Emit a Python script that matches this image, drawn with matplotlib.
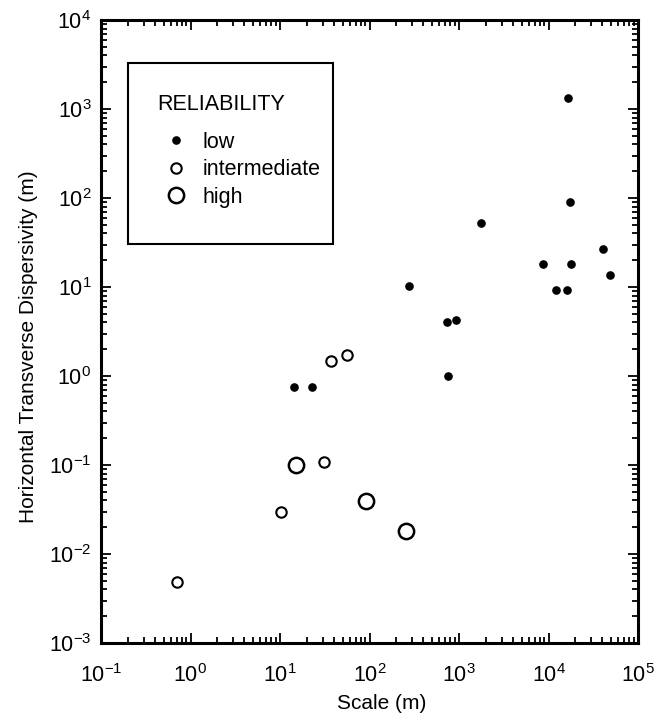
import numpy as np
import matplotlib
matplotlib.use("Agg")
import matplotlib.pyplot as plt
from matplotlib.patches import Rectangle
from matplotlib.ticker import NullFormatter

plt.rcParams['font.family'] = ['Liberation Sans', 'DejaVu Sans']
plt.rcParams['mathtext.fontset'] = 'custom'
plt.rcParams['mathtext.rm'] = 'Liberation Sans'
plt.rcParams['mathtext.default'] = 'regular'

# scale (m) and horizontal transverse dispersivity (m), by reliability
low_x = [14.5, 22.5, 745, 727, 915, 273, 1770, 16700, 17500, 8620, 18000, 12200, 16000, 40900, 48200]
low_y = [0.75, 0.75, 1.0, 4.0, 4.3, 10.3, 53, 1340, 90, 18.3, 18.3, 9.2, 9.2, 27, 13.7]

mid_x = [0.71, 10.3, 31, 37.6, 55.8]
mid_y = [0.0048, 0.030, 0.108, 1.47, 1.72]

high_x = [14.9, 92, 254]
high_y = [0.10, 0.039, 0.018]

labels = ["low", "intermediate", "high"]

x_exp = np.arange(-1, 6)   # 10^-1 .. 10^5
y_exp = np.arange(-3, 5)   # 10^-3 .. 10^4


def minor_ticks(exps):
    # 2..9 x 10^n inside each decade
    return [m * 10.0**e for e in exps[:-1] for m in range(2, 10)]


def main():
    fig = plt.figure(figsize=(6.63, 7.26), dpi=100)
    ax = fig.add_axes([101/663, 1-643/726, 537/663, 623/726])

    h1, = ax.plot(low_x, low_y, "o", color="black", ms=5.2, label=labels[0])
    h2, = ax.plot(mid_x, mid_y, "o", mfc="white", mec="black", mew=1.5, ms=7.5, label=labels[1])
    h3, = ax.plot(high_x, high_y, "o", mfc="white", mec="black", mew=1.8, ms=11, label=labels[2])

    ax.set_xscale("log")
    ax.set_yscale("log")

    # ticks only inside the range, on all sides, pointing in
    ax.set_xticks(10.0**x_exp)
    ax.set_yticks(10.0**y_exp)
    ax.set_xticks(minor_ticks(x_exp), minor=True)
    ax.set_yticks(minor_ticks(y_exp), minor=True)
    ax.xaxis.set_minor_formatter(NullFormatter())
    ax.yaxis.set_minor_formatter(NullFormatter())
    ax.set_xlim(10.0**x_exp[0], 10.0**x_exp[-1])
    ax.set_ylim(10.0**y_exp[0], 10.0**y_exp[-1])

    ax.tick_params(which="both", direction="in", top=True, right=True, width=1.3)
    ax.tick_params(which="major", length=7)
    ax.tick_params(which="minor", length=4)
    ax.tick_params(axis="x", which="major", labelsize=15.5, pad=15)
    ax.tick_params(axis="y", which="major", labelsize=15.5, pad=7)
    for s in ax.spines.values():
        s.set_linewidth(2.2)

    ax.set_xlabel("Scale (m)", fontsize=15)
    ax.set_ylabel("Horizontal Transverse Dispersivity (m)", fontsize=15)
    ax.xaxis.set_label_coords(0.523, -0.082)
    ax.yaxis.set_label_coords(-0.118, 0.475)

    # legend box
    fig.patches.append(Rectangle((128/663, 1-244/726), 205/663, 181/726,
                                 transform=fig.transFigure, fill=False,
                                 edgecolor="black", linewidth=1.5))
    fig.text(157/663, 1-104/726, "RELIABILITY", fontsize=15.5, va="center", ha="left")
    ax.legend(handles=[h1, h2, h3], loc="upper left", frameon=False,
              bbox_to_anchor=(166/663, 1-132/726), bbox_transform=fig.transFigure,
              borderaxespad=0, borderpad=0, fontsize=15.5, handlelength=0.9,
              handletextpad=0.8, labelspacing=0.3)

    fig.savefig("out.png", dpi=100)


if __name__ == "__main__":
    main()
